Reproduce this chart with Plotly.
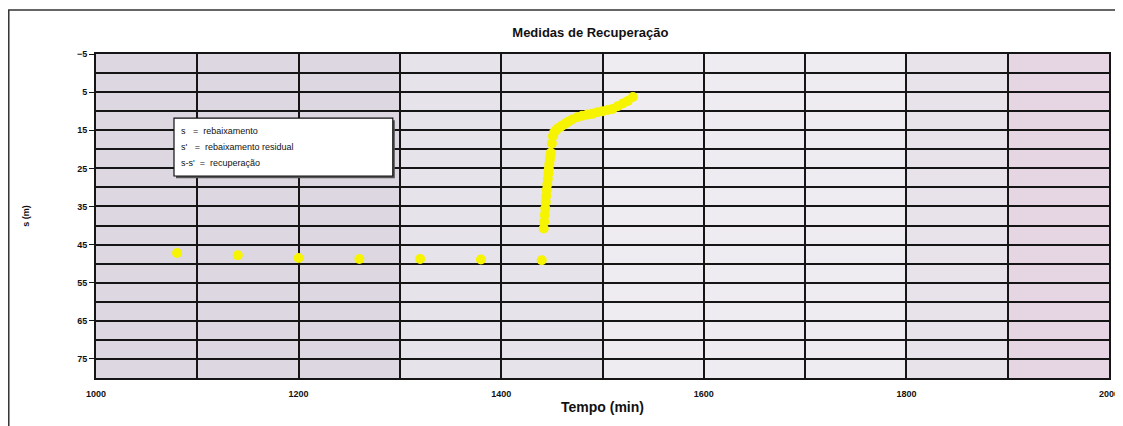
import plotly.graph_objects as go

# --- data ---
pump_t = [1080, 1140, 1200, 1260, 1320, 1380, 1440]
pump_s = [47.2, 47.8, 48.5, 48.8, 48.8, 48.9, 49.1]

rec_t = [1442, 1442.5, 1443, 1443.5, 1444, 1444.5, 1445, 1445.5, 1446, 1446.5,
         1447, 1447.5, 1448, 1448.5, 1449, 1450, 1451, 1452, 1454, 1456, 1458,
         1460, 1463, 1466, 1470, 1475, 1480, 1485, 1490, 1495, 1500, 1505,
         1510, 1515, 1520, 1525, 1530]
rec_s = [40.8, 39.0, 37.2, 35.5, 33.8, 32.2, 30.6, 29.2, 27.8, 26.4,
         25.1, 23.9, 22.8, 21.8, 20.9, 18.5, 16.6, 15.7, 15.0, 14.5, 14.2,
         13.8, 13.3, 12.8, 12.2, 11.6, 11.2, 10.9, 10.7, 10.3, 10.0, 9.7,
         9.4, 8.7, 8.0, 7.3, 6.3]

legend_lines = ["s   =  rebaixamento", "s'   =  rebaixamento residual", "s-s'  =  recuperação"]

title_text = "Medidas de Recuperação"
x_title = "Tempo (min)"
y_title = "s (m)"

YELLOW = "#f6f400"
GRID = "#151515"
FONT = "Liberation Sans, Arial, sans-serif"

# the page body has an 8px margin, so the figure is sized/offset for it
W, H = 1115, 418
fig = go.Figure()
fig.add_trace(go.Scatter(x=pump_t, y=pump_s, mode="markers",
                         marker=dict(color=YELLOW, size=10, line=dict(width=0)),
                         showlegend=False))
fig.add_trace(go.Scatter(x=rec_t, y=rec_s, mode="markers",
                         marker=dict(color=YELLOW, size=10, line=dict(width=0)),
                         showlegend=False))

shapes = []
# background tint bands (scan look)
bands = [(1000, 1300, "#dcd7e1"), (1300, 1500, "#e6e3ea"), (1500, 1800, "#eeecf0"),
         (1800, 1900, "#e8e2ea"), (1900, 2000, "#e6d6e3")]
for x0, x1, c in bands:
    shapes.append(dict(type="rect", xref="x", yref="y", x0=x0, x1=x1, y0=-5, y1=80,
                       fillcolor=c, line=dict(width=0), layer="below"))
# legend box shadow + box
shapes.append(dict(type="rect", xref="x", yref="y", x0=1079, x1=1295, y0=12.4, y1=27.6,
                   fillcolor="#555555", line=dict(width=0), layer="above"))
shapes.append(dict(type="rect", xref="x", yref="y", x0=1077, x1=1293, y0=11.8, y1=27.0,
                   fillcolor="white", line=dict(color="#111111", width=1.2), layer="above"))
# outer frame
shapes.append(dict(type="rect", xref="paper", yref="paper", x0=-0.0861, x1=1.0079,
                   y0=-0.3, y1=1.1358, fillcolor="rgba(0,0,0,0)",
                   line=dict(color="#333333", width=1.5)))

annotations = []
for i, t in enumerate(legend_lines):
    annotations.append(dict(x=1082, y=15.2 + i * 4.2, xref="x", yref="y", text=t,
                            showarrow=False, xanchor="left", yanchor="middle",
                            font=dict(family=FONT, size=9, color="#111111")))

fig.update_layout(
    width=W, height=H,
    margin=dict(l=88, r=14, t=46, b=48, autoexpand=False),
    paper_bgcolor="white",
    plot_bgcolor="#e4e0e8",
    title=dict(text="<b>" + title_text + "</b>", x=0.488, xref="paper", xanchor="center",
               y=0.942, yanchor="middle", font=dict(family=FONT, size=13, color="#111111")),
    font=dict(family=FONT, color="#111111"),
    shapes=shapes,
    annotations=annotations,
    showlegend=False,
)

fig.update_xaxes(
    range=[1000, 2000], tick0=1000, dtick=200,
    showgrid=True, gridcolor=GRID, gridwidth=2,
    minor=dict(dtick=100, tick0=1000, showgrid=True, gridcolor=GRID, gridwidth=2),
    showline=True, linecolor=GRID, linewidth=2, mirror=True,
    ticks="", ticklen=0, zeroline=False, automargin=False,
    ticklabelstandoff=6,
    tickfont=dict(family=FONT, size=9, color="#111111", weight="bold"),
    title=dict(text="<b>" + x_title + "</b>", font=dict(family=FONT, size=14, color="#111111"),
               standoff=4),
)
fig.update_yaxes(
    range=[80, -5], tick0=-5, dtick=10,
    showgrid=True, gridcolor=GRID, gridwidth=2,
    minor=dict(dtick=5, tick0=-5, showgrid=True, gridcolor=GRID, gridwidth=2),
    showline=True, linecolor=GRID, linewidth=2, mirror=True,
    ticks="outside", ticklen=5, tickcolor=GRID, zeroline=False, automargin=False,
    tickformat="d", exponentformat="none",
    tickfont=dict(family=FONT, size=9, color="#111111", weight="bold"),
    title=dict(text="<b>" + y_title + "</b>", font=dict(family=FONT, size=9, color="#111111"),
               standoff=46),
)

fig.write_html("out.html")
